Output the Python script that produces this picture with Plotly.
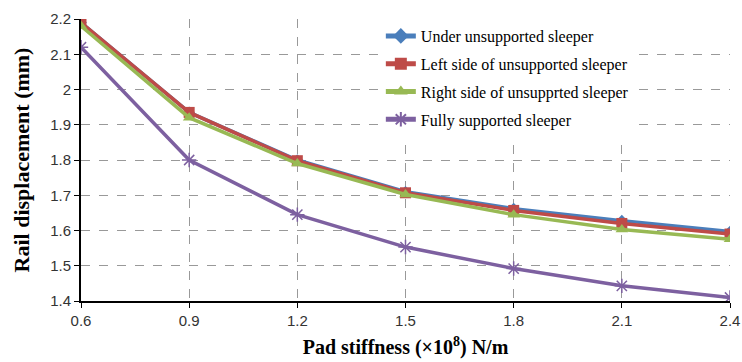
import plotly.graph_objects as go

# Pad stiffness (x10^8 N/m)
stiffness = [0.6, 0.9, 1.2, 1.5, 1.8, 2.1, 2.4]

# Rail displacement (mm) for each support condition
under_unsupported = [2.19, 1.935, 1.80, 1.71, 1.662, 1.628, 1.597]
left_unsupported = [2.19, 1.935, 1.798, 1.707, 1.657, 1.62, 1.59]
right_unsupported = [2.18, 1.92, 1.79, 1.702, 1.645, 1.603, 1.575]
fully_supported = [2.12, 1.80, 1.645, 1.553, 1.492, 1.443, 1.41]

x_ticks = [0.6, 0.9, 1.2, 1.5, 1.8, 2.1, 2.4]
y_ticks = [1.4, 1.5, 1.6, 1.7, 1.8, 1.9, 2.0, 2.1, 2.2]
y_tick_text = ["1.4", "1.5", "1.6", "1.7", "1.8", "1.9", "2", "2.1", "2.2"]

series = [
    ("Under unsupported sleeper", under_unsupported, "#4A7EBB",
     dict(symbol="diamond", size=9)),
    ("Left side of unsupported sleeper", left_unsupported, "#BE4B48",
     dict(symbol="square", size=11)),
    ("Right side of unsupprted sleeper", right_unsupported, "#98B954",
     dict(symbol="triangle-up", size=11)),
    ("Fully supported sleeper", fully_supported, "#7D60A0",
     dict(symbol="asterisk-open", size=12)),
]

fig = go.Figure()
for i, (name, values, color, marker) in enumerate(series):
    m = dict(color=color, **marker)
    if marker["symbol"] == "asterisk-open":
        m["line"] = dict(color=color, width=1.5)
    fig.add_trace(go.Scatter(
        x=stiffness, y=values, name=name, mode="lines+markers",
        line=dict(color=color, width=3.5), marker=m,
        legendgroup=f"g{i}",
    ))

tick_font = dict(family="Liberation Sans Narrow, Liberation Sans", size=15, color="#333333")

fig.update_layout(
    width=742, height=362,
    margin=dict(l=81, r=12, t=19, b=61),
    paper_bgcolor="white", plot_bgcolor="white",
    font=dict(family="Liberation Serif", color="black"),
    showlegend=True,
    legend=dict(
        x=0.462, y=1.0, xanchor="left", yanchor="top",
        bgcolor="white", borderwidth=0,
        font=dict(family="Liberation Serif", size=16, color="black"),
        tracegroupgap=4, itemsizing="constant",
    ),
)

fig.update_xaxes(
    range=[0.6, 2.4], tickvals=x_ticks,
    ticktext=[f"{v:.1f}" for v in x_ticks],
    ticklabeloverflow="allow", automargin=False,
    showline=True, linecolor="black", linewidth=2,
    ticks="outside", ticklen=5, tickcolor="black",
    showgrid=True, gridcolor="#999999", griddash="dash", gridwidth=1,
    tickfont=tick_font,
    title=dict(text="<b>Pad stiffness (×10<sup>8</sup>) N/m</b>",
               font=dict(family="Liberation Serif", size=20, color="black"),
               standoff=12),
    zeroline=False,
)
fig.update_yaxes(
    range=[1.4, 2.2], tickvals=y_ticks, ticktext=y_tick_text,
    automargin=False,
    showline=True, linecolor="black", linewidth=2,
    ticks="outside", ticklen=5, tickcolor="black",
    showgrid=True, gridcolor="#999999", griddash="dash", gridwidth=1,
    tickfont=tick_font,
    title=dict(text="<b>Rail displacement (mm)</b>",
               font=dict(family="Liberation Serif", size=22, color="black"),
               standoff=14),
    zeroline=False,
)

fig.write_html("out.html")
